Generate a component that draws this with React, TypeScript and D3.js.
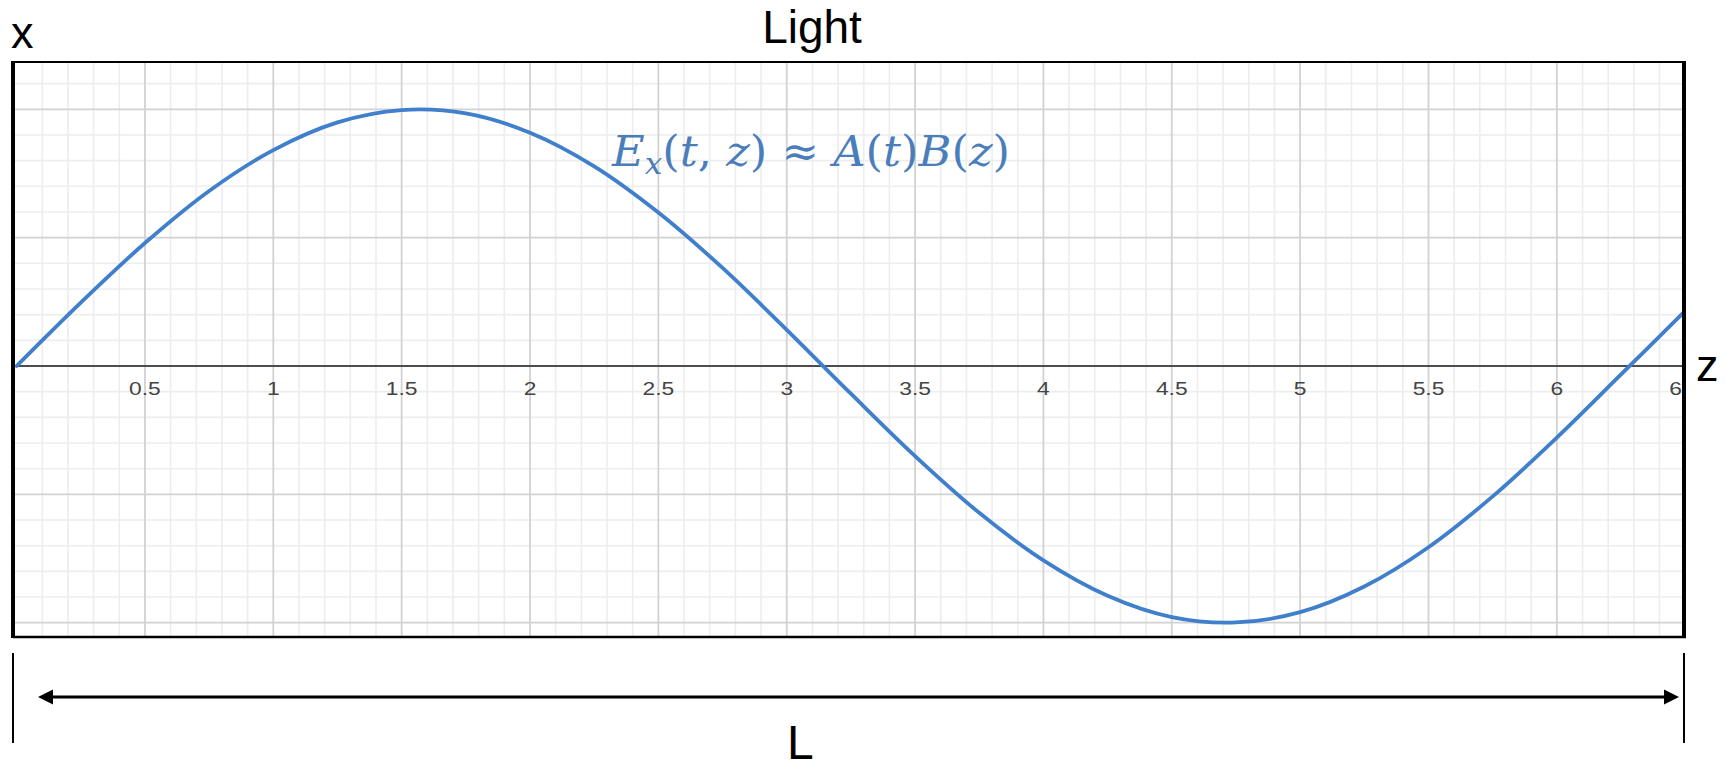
import React from "react";
import * as d3 from "d3";

// Sampled field amplitude along z (read every 0.25)
const zSamples = [
  0, 0.25, 0.5, 0.75, 1, 1.25, 1.5, 1.75, 2, 2.25, 2.5, 2.75, 3, 3.25, 3.5,
  3.75, 4, 4.25, 4.5, 4.75, 5, 5.25, 5.5, 5.75, 6, 6.25, 6.5,
];
const exValues = [
  0.0, 0.247, 0.479, 0.682, 0.841, 0.949, 0.997, 0.984, 0.909, 0.778, 0.598,
  0.382, 0.141, -0.108, -0.351, -0.572, -0.757, -0.895, -0.978, -0.999,
  -0.959, -0.859, -0.706, -0.508, -0.279, -0.033, 0.215,
];

// Axis tick labels along z
const tickValues = [0.5, 1, 1.5, 2, 2.5, 3, 3.5, 4, 4.5, 5, 5.5, 6, 6.5];
const tickLabels = ["0.5", "1", "1.5", "2", "2.5", "3", "3.5", "4", "4.5", "5", "5.5", "6", "6.5"];

const W = 1726;
const H = 765;

const frame = { left: 13, top: 62, right: 1684, bottom: 637 };

const x = d3.scaleLinear().domain([0, 6.5]).range([16.6, 1685.2]);
const y = d3.scaleLinear().domain([-1, 1]).range([366 + 256.7, 366 - 256.7]);

const SANS = "'Liberation Sans', Arial, sans-serif";
const SERIF = "'DejaVu Serif', 'Liberation Serif', serif";
const BLUE = "#3f7fcc";
const EQ_BLUE = "#4a7ebb";

export default function App() {
  const zMin = x.invert(frame.left);
  const zMax = x.invert(frame.right);
  const vMax = y.invert(frame.top);
  const vMin = y.invert(frame.bottom);

  const minorX = d3.range(0, 66).map((i) => i / 10).filter((v) => v > zMin && v < zMax && Math.round(v * 10) % 5 !== 0);
  const majorX = d3.range(0, 14).map((i) => i / 2).filter((v) => v > zMin + 0.02 && v < zMax);
  const minorY = d3.range(-12, 13).map((i) => i / 10).filter((v) => v > vMin && v < vMax && Math.round(Math.abs(v) * 10) % 5 !== 0);
  const majorY = d3.range(-3, 4).map((i) => i / 2).filter((v) => v > vMin && v < vMax && v !== 0);

  const line = d3
    .line<number>()
    .x((_, i) => x(zSamples[i]))
    .y((d) => y(d))
    .curve(d3.curveCatmullRom.alpha(0.5));

  return (
    <svg
      width={W}
      height={H}
      viewBox={`0 0 ${W} ${H}`}
      style={{ position: "absolute", left: 0, top: 0, background: "#fff" }}
    >
      <defs>
        <clipPath id="plotClip">
          <rect x={frame.left} y={frame.top} width={frame.right - frame.left} height={frame.bottom - frame.top} />
        </clipPath>
      </defs>

      {/* grid */}
      <g clipPath="url(#plotClip)">
        {minorX.map((v) => (
          <line key={"mx" + v} x1={x(v)} x2={x(v)} y1={frame.top} y2={frame.bottom} stroke="#ededed" strokeWidth={1.6} />
        ))}
        {minorY.map((v) => (
          <line key={"my" + v} x1={frame.left} x2={frame.right} y1={y(v)} y2={y(v)} stroke="#ededed" strokeWidth={1.6} />
        ))}
        {majorX.map((v) => (
          <line key={"Mx" + v} x1={x(v)} x2={x(v)} y1={frame.top} y2={frame.bottom} stroke="#d2d2d2" strokeWidth={1.8} />
        ))}
        {majorY.map((v) => (
          <line key={"My" + v} x1={frame.left} x2={frame.right} y1={y(v)} y2={y(v)} stroke="#d2d2d2" strokeWidth={1.8} />
        ))}

        {/* z axis */}
        <line x1={frame.left} x2={frame.right} y1={y(0)} y2={y(0)} stroke="#4d4d4d" strokeWidth={2} />

        {/* tick labels */}
        {tickValues.map((v, i) => (
          <text
            key={"t" + v}
            transform={`translate(${x(v)},394.5) scale(1.2,1)`}
            textAnchor="middle"
            fontFamily={SANS}
            fontSize={19}
            fill="#444"
          >
            {tickLabels[i]}
          </text>
        ))}

        {/* field curve */}
        <path d={line(exValues) || ""} fill="none" stroke={BLUE} strokeWidth={3.8} strokeLinecap="round" />
      </g>

      {/* frame */}
      <line x1={frame.left} x2={frame.right + 2} y1={frame.top} y2={frame.top} stroke="#000" strokeWidth={2} />
      <line x1={frame.left} x2={frame.right + 2} y1={frame.bottom} y2={frame.bottom} stroke="#000" strokeWidth={2.5} />
      <line x1={frame.left} x2={frame.left} y1={frame.top - 1} y2={frame.bottom + 1} stroke="#000" strokeWidth={4} />
      <line x1={frame.right} x2={frame.right} y1={frame.top - 1} y2={frame.bottom + 1} stroke="#000" strokeWidth={4} />

      {/* equation */}
      <text
        x={612}
        y={166}
        fontFamily={SERIF}
        fontSize={43}
        fill={EQ_BLUE}
        textLength={398}
        lengthAdjust="spacingAndGlyphs"
      >
        <tspan fontStyle="italic">E</tspan>
        <tspan fontStyle="italic" fontSize={30} dy={8}>x</tspan>
        <tspan dy={-8}>(</tspan>
        <tspan fontStyle="italic">t</tspan>
        <tspan>, </tspan>
        <tspan fontStyle="italic">z</tspan>
        <tspan>) ≈ </tspan>
        <tspan fontStyle="italic">A</tspan>
        <tspan>(</tspan>
        <tspan fontStyle="italic">t</tspan>
        <tspan>)</tspan>
        <tspan fontStyle="italic">B</tspan>
        <tspan>(</tspan>
        <tspan fontStyle="italic">z</tspan>
        <tspan>)</tspan>
      </text>

      {/* labels */}
      <text x={812} y={43} textAnchor="middle" fontFamily={SANS} fontSize={46} fill="#000">Light</text>
      <text x={11} y={48} fontFamily={SANS} fontSize={45} fill="#000">x</text>
      <text x={1696} y={381} fontFamily={SANS} fontSize={45} fill="#000">z</text>
      <text x={787} y={759} fontFamily={SANS} fontSize={48} fill="#000">L</text>

      {/* length marker */}
      <line x1={13} x2={13} y1={653} y2={743} stroke="#000" strokeWidth={2} />
      <line x1={1684} x2={1684} y1={653} y2={743} stroke="#000" strokeWidth={2} />
      <line x1={50} x2={1667} y1={697} y2={697} stroke="#000" strokeWidth={3} />
      <path d="M38,697 L53,689.5 L53,704.5 Z" fill="#000" />
      <path d="M1679,697 L1664,689.5 L1664,704.5 Z" fill="#000" />
    </svg>
  );
}
